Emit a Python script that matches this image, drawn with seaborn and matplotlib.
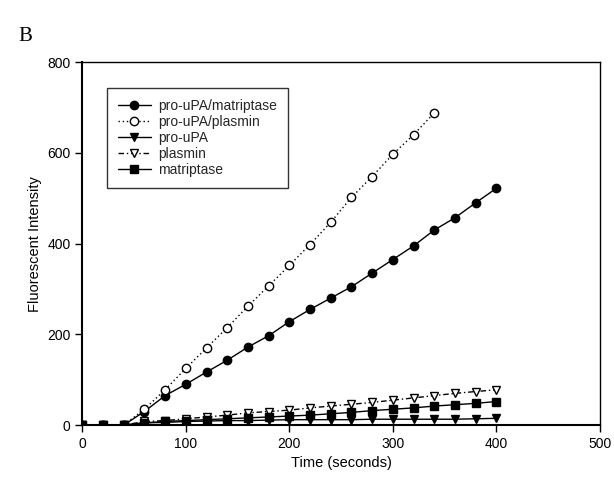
import numpy as np
import pandas as pd
import matplotlib
matplotlib.use("Agg")
import matplotlib.pyplot as plt
import seaborn as sns

time = [0, 20, 40, 60, 80, 100, 120, 140, 160, 180, 200, 220, 240, 260, 280, 300, 320, 340, 360, 380, 400]
time_plasmin_mix = time[:18]

pro_upa_matriptase = [0, 0, 0, 30, 65, 90, 117, 143, 172, 197, 228, 255, 280, 305, 335, 365, 395, 430, 457, 490, 522]
pro_upa_plasmin = [0, 0, 0, 35, 78, 125, 170, 215, 262, 307, 352, 398, 447, 502, 548, 597, 640, 688]
pro_upa = [0, 0, 0, 5, 6, 8, 9, 10, 10, 11, 12, 12, 12, 12, 13, 13, 13, 13, 13, 14, 15]
plasmin = [0, 0, 0, 8, 10, 14, 18, 22, 27, 30, 33, 38, 42, 46, 50, 55, 60, 65, 70, 74, 78]
matriptase = [0, 0, 0, 5, 8, 10, 12, 14, 16, 18, 20, 22, 25, 28, 32, 35, 38, 42, 45, 48, 52]

labels = ["pro-uPA/matriptase", "pro-uPA/plasmin", "pro-uPA", "plasmin", "matriptase"]
x_ticks = [0, 100, 200, 300, 400, 500]
y_ticks = [0, 200, 400, 600, 800]

sns.set_theme(style="white")
plt.rcParams['font.family'] = ['Liberation Sans', 'DejaVu Sans']

fig = plt.figure(figsize=(6.14, 4.82), dpi=100)
ax = fig.add_axes([0.134, 0.118, 0.843, 0.753])

series = [
    (time, pro_upa_matriptase, dict(marker='o', mfc='black', ls='-')),
    (time_plasmin_mix, pro_upa_plasmin, dict(marker='o', mfc='white', ls=(0, (1, 2)))),
    (time, pro_upa, dict(marker='v', mfc='black', ls='-')),
    (time, plasmin, dict(marker='v', mfc='white', ls=(0, (4, 2, 1, 2)))),
    (time, matriptase, dict(marker='s', mfc='black', ls='-')),
]
for (xs, ys, st), lab in zip(series, labels):
    sns.lineplot(x=xs, y=ys, ax=ax, color='black', marker=st['marker'],
                 markerfacecolor=st['mfc'], markeredgecolor='black', markeredgewidth=1.0,
                 markersize=6, linestyle=st['ls'], linewidth=1.0, label=lab)

ax.set_xlim(0, 500)
ax.set_ylim(0, 800)
ax.set_xticks(x_ticks)
ax.set_yticks(y_ticks)
ax.tick_params(axis='both', direction='out', length=5, width=1, color='black',
               labelsize=10, labelcolor='black', bottom=True, left=True)
for s in ax.spines.values():
    s.set_color('black')
    s.set_linewidth(1.0)
ax.spines['left'].set_linewidth(1.5)
ax.spines['bottom'].set_linewidth(1.5)
ax.set_xlabel("Time (seconds)", fontsize=10.5, color='black')
ax.set_ylabel("Fluorescent Intensity", fontsize=10.5, color='black')

leg = ax.legend(loc='upper left', bbox_to_anchor=(0.047, 0.93), frameon=True, fancybox=False,
                edgecolor='black', fontsize=10, handlelength=2.4, labelspacing=0.15,
                borderpad=0.8, handletextpad=0.5, borderaxespad=0)
leg.get_frame().set_linewidth(1.0)

fig.text(0.03, 0.915, "B", fontsize=15, family=['Liberation Serif', 'DejaVu Serif'], color='black')

fig.savefig("out.png", dpi=100)
